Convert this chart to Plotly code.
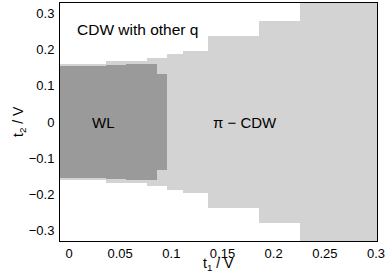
import plotly.graph_objects as go

# Column edges along t1 (V) and half-widths of the phases along t2 (V)
t1_edges = [-0.0088, 0.0362, 0.0557, 0.0760, 0.0857, 0.0955, 0.1117, 0.1362, 0.1860, 0.2258, 0.301]
pi_cdw_half = [0.161, 0.168, 0.168, 0.176, 0.176, 0.187, 0.197, 0.236, 0.278, 0.34]
wl_half = [0.155, 0.157, 0.159, 0.159, 0.131]

x_ticks = [0, 0.05, 0.1, 0.15, 0.2, 0.25, 0.3]
y_ticks = [-0.3, -0.2, -0.1, 0, 0.1, 0.2, 0.3]

centers = [(a + b) / 2 for a, b in zip(t1_edges[:-1], t1_edges[1:])]
widths = [b - a for a, b in zip(t1_edges[:-1], t1_edges[1:])]

LIGHT = "#d3d3d3"
DARK = "#9a9a9a"
FONT = "Liberation Sans, Arial, Helvetica, sans-serif"

fig = go.Figure()
fig.add_trace(go.Bar(
    x=centers, width=widths,
    base=[-h for h in pi_cdw_half], y=[2 * h for h in pi_cdw_half],
    marker=dict(color=LIGHT, line=dict(width=0)), hoverinfo="skip",
))
n = len(wl_half)
fig.add_trace(go.Bar(
    x=centers[:n], width=widths[:n],
    base=[-h for h in wl_half], y=[2 * h for h in wl_half],
    marker=dict(color=DARK, line=dict(width=0)), hoverinfo="skip",
))

fig.update_layout(
    width=390, height=280,
    margin=dict(l=60, r=13, t=3, b=39, autoexpand=False),
    paper_bgcolor="white", plot_bgcolor="white",
    barmode="overlay", bargap=0, showlegend=False,
    font=dict(family=FONT, size=13, color="black"),
    xaxis=dict(range=[t1_edges[0], t1_edges[-1]], tickvals=x_ticks,
               showgrid=False, zeroline=False, automargin=False, ticks="",
               showline=True, linecolor="black", linewidth=1, mirror=True),
    yaxis=dict(range=[-0.328, 0.328], tickvals=y_ticks,
               showgrid=False, zeroline=False, automargin=False,
               ticks="outside", ticklen=2, tickcolor="rgba(0,0,0,0)",
               showline=True, linecolor="black", linewidth=1, mirror=True),
    annotations=[
        dict(text="CDW with other q", x=0.067, y=0.254, xref="x", yref="y",
             showarrow=False, xanchor="center", font=dict(size=15.5)),
        dict(text="WL", x=0.034, y=0.0, xref="x", yref="y",
             showarrow=False, font=dict(size=15)),
        dict(text="\u03c0 \u2212 CDW", x=0.172, y=0.0, xref="x", yref="y",
             showarrow=False, font=dict(size=15)),
        dict(text="t<sub>1</sub> / V", x=0.5, y=0, xref="paper", yref="paper",
             xanchor="center", yanchor="top", yshift=-12, showarrow=False,
             font=dict(size=14)),
        dict(text="t<sub>2</sub> / V", x=0, y=0.5, xref="paper", yref="paper",
             xanchor="center", yanchor="middle", xshift=-41, textangle=-90,
             showarrow=False, font=dict(size=14)),
    ],
)

fig.write_html("out.html", config={"displayModeBar": False},
               post_script="document.body.style.margin='0';")
